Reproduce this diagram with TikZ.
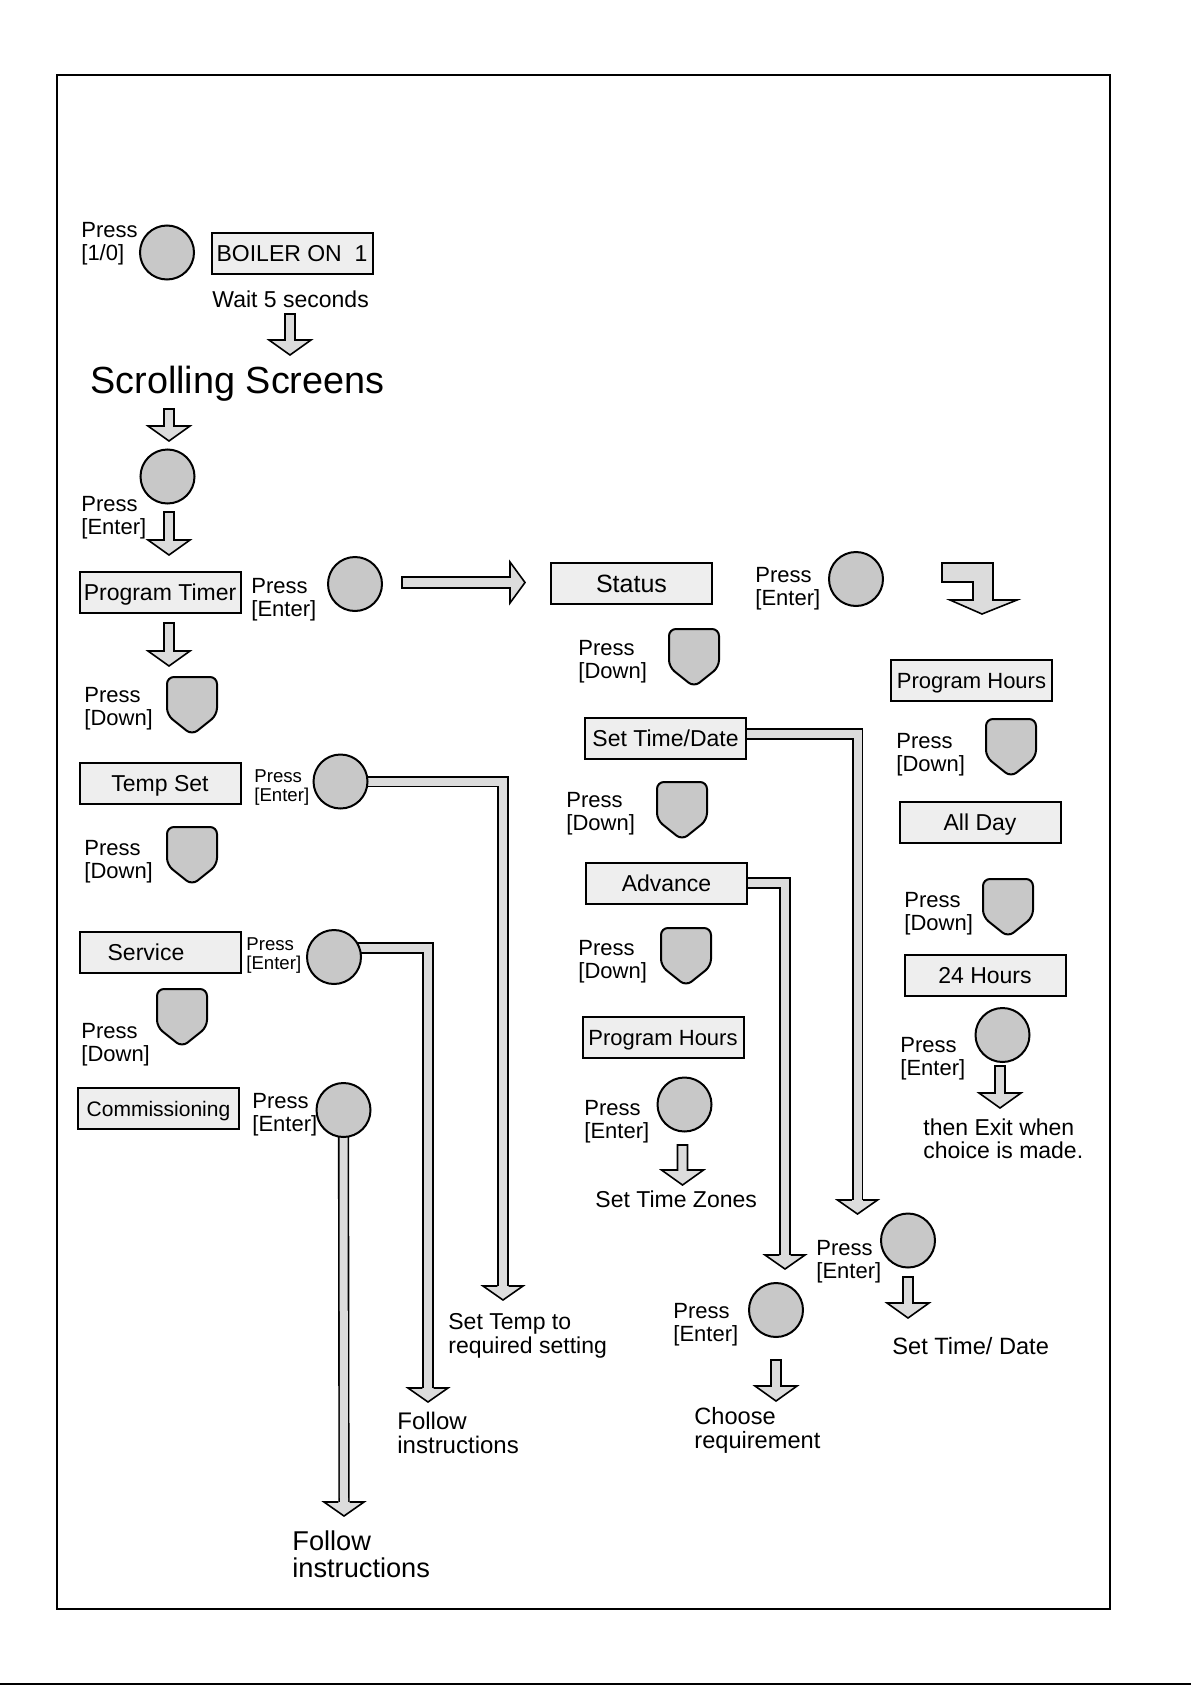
\documentclass[tikz,border=0pt]{standalone}
\usepackage{fontspec}
\setmainfont{Liberation Sans}
\usepackage{tikz}
\usetikzlibrary{backgrounds}
\definecolor{keygray}{HTML}{C8C8C8}
\definecolor{boxgray}{HTML}{EEEEEE}
\definecolor{arrowgray}{HTML}{DCDCDC}

\begin{document}
\begin{tikzpicture}[x=0.5pt, y=-0.5pt,
    screen/.style={draw, line width=1pt, fill=boxgray, minimum width=80.5pt,
                   minimum height=20.5pt, inner sep=0pt, text height=8.2pt, text depth=0pt,
                   font=\fontsize{11.5}{13}\selectfont},
    keyround/.style={circle, draw, line width=1pt, fill=keygray, minimum size=27pt, inner sep=0pt},
    lbl/.style={anchor=north west, inner sep=0pt, align=left, font=\fontsize{11}{11.5}\selectfont},
    lblsmall/.style={lbl, font=\fontsize{9.3}{9.6}\selectfont},
    note/.style={lbl, font=\fontsize{11.5}{11.8}\selectfont},
    pipe/.style={double=arrowgray, double distance=4pt, line width=0.8pt, line join=miter},
    arrowfill/.style={draw, line width=0.8pt, fill=arrowgray, line join=miter},
    downkey/.pic={\draw[line width=1pt, fill=keygray, rounded corners=3.5pt]
        (25,0) -- (50,0) -- (50,38) -- (25,58) -- (0,38) -- (0,0) -- cycle;},
    pics/blockdown/.style={code={\draw[arrowfill] (-5,0) -- (5,0) -- (5,{#1-15}) -- (21,{#1-15})
        -- (0,#1) -- (-21,{#1-15}) -- (-5,{#1-15}) -- cycle;}},
    pipehead/.pic={\fill[arrowgray] (-20,0) -- (0,14) -- (20,0) -- cycle;
        \draw[line width=0.8pt, line join=miter] (-5.6,0) -- (-20,0) -- (0,14) -- (20,0) -- (5.6,0);},
]
    \useasboundingbox (0,0) rectangle (1191,1685);
    \draw[line width=0.8pt] (57,75) rectangle (1110,1609);
    \draw[line width=1pt] (0,1684) -- (1191,1684);

    % === power on ===
    \node[lbl] (txtpower) at (81,222) {Press\\{[1/0]}};
    \node[keyround] (btnpower) at (167,252.5) {};
    \node[screen] (boileron) at (292,253.5) {BOILER ON\ \ 1};
    \node[note] (txtwait) at (212,290) {Wait 5 seconds};
    \pic at (290,314) {blockdown=41};
    \node[lbl, font=\fontsize{18.9}{20}\selectfont] (title) at (90,366) {Scrolling Screens};
    \pic at (169,409) {blockdown=32};
    \node[keyround] (btnscroll) at (167.5,476.5) {};
    \node[lbl] (txtscroll) at (81,496) {Press\\{[Enter]}};
    \pic at (169,512) {blockdown=43};

    % === left column ===
    \node[screen] (timer) at (160,592) {Program Timer};
    \node[lbl] (txttimer) at (251,578) {Press\\{[Enter]}};
    \node[keyround] (btntimer) at (355,584) {};
    \draw[arrowfill] (402,577) -- (510,577) -- (510,562) -- (525,582.5) -- (510,603)
        -- (510,588) -- (402,588) -- cycle;
    \pic at (169,623) {blockdown=43};
    \node[lbl] (txtdown1) at (84,687) {Press\\{[Down]}};
    \pic at (167,677) {downkey};

    \node[screen] (temp) at (160,783.5) {Temp Set};
    \node[lblsmall] (txttemp) at (254,769) {Press\\{[Enter]}};
    \node[keyround] (btntemp) at (340.5,781.5) {};
    \node[lbl] (txtdown2) at (84,840) {Press\\{[Down]}};
    \pic at (167,827) {downkey};

    \node[screen] (service) at (160.5,952) {Service\hspace*{14.5pt}};
    \node[lblsmall] (txtservice) at (246,937) {Press\\{[Enter]}};
    \node[keyround] (btnservice) at (334,957) {};
    \node[lbl] (txtdown3) at (81,1023) {Press\\{[Down]}};
    \pic at (157,989) {downkey};

    \node[screen, font=\fontsize{10.5}{12}\selectfont, text height=7.5pt] (comm) at (158.5,1108.5) {Commissioning};
    \node[lbl] (txtcomm) at (252,1093) {Press\\{[Enter]}};
    \node[keyround] (btncomm) at (343.5,1110) {};

    % === status column ===
    \node[screen, font=\fontsize{12.5}{14}\selectfont, text height=9pt] (status) at (631.5,583.5) {Status};
    \node[lbl] (txtstatus) at (755,567) {Press\\{[Enter]}};
    \node[keyround] (btnstatus) at (856,579) {};
    \draw[arrowfill] (942,563) -- (993,563) -- (993,600) -- (1017,600) -- (982,614)
        -- (950,600) -- (973,600) -- (973,582) -- (942,582) -- cycle;
    \node[lbl] (txtdown4) at (578,640) {Press\\{[Down]}};
    \pic at (669,629) {downkey};
    \node[screen] (settime) at (665.5,738) {Set Time/Date};
    \node[lbl] (txtdown5) at (566,792) {Press\\{[Down]}};
    \pic at (657,782) {downkey};
    \node[screen] (advance) at (666.5,883) {Advance};
    \node[lbl] (txtdown6) at (578,940) {Press\\{[Down]}};
    \pic at (661,928) {downkey};
    \node[screen, font=\fontsize{11}{12}\selectfont] (proghrs) at (663,1037) {Program Hours};
    \node[lbl] (txtzones) at (584,1100) {Press\\{[Enter]}};
    \node[keyround] (btnzones) at (684.5,1104.5) {};
    \pic at (682.5,1145) {blockdown=40};
    \node[note] (zones) at (595,1190) {Set Time Zones};

    \node[lbl] (txtdate) at (816,1240) {Press\\{[Enter]}};
    \node[keyround] (btndate) at (908,1240.5) {};
    \pic at (908,1277) {blockdown=41};
    \node[note, font=\fontsize{11.8}{12}\selectfont] (datedone) at (892,1337) {Set Time/ Date};

    \node[lbl] (txtadv) at (673,1303) {Press\\{[Enter]}};
    \node[keyround] (btnadv) at (776,1310) {};
    \pic at (776,1360) {blockdown=41};
    \node[note, font=\fontsize{11.8}{12.2}\selectfont] (choose) at (694,1407) {Choose\\requirement};

    % === program hours column ===
    \node[screen, font=\fontsize{11}{12}\selectfont] (proghrsr) at (971.5,680) {Program Hours};
    \node[lbl] (txtdown7) at (896,733) {Press\\{[Down]}};
    \pic at (986,719) {downkey};
    \node[screen] (allday) at (980,822.5) {All Day};
    \node[lbl] (txtdown8) at (904,892) {Press\\{[Down]}};
    \pic at (983,879) {downkey};
    \node[screen] (hours24) at (985,975) {24 Hours};
    \node[lbl] (txt24) at (900,1037) {Press\\{[Enter]}};
    \node[keyround] (btn24) at (1002.5,1035) {};
    \pic at (1000,1066) {blockdown=42};
    \node[note] (txtexit) at (923,1118) {then Exit when\\choice is made.};

    % === results ===
    \node[note] (settemp) at (448,1313) {Set Temp to\\required setting};
    \node[note, font=\fontsize{12}{11.9}\selectfont] (follow1) at (397,1412) {Follow\\instructions};
    \node[note, font=\fontsize{13.6}{13.5}\selectfont] (follow2) at (292,1530) {Follow\\instructions};

    % pipes into the result arrows
    \coordinate (tempend) at (503,1286);
    \coordinate (serviceend) at (428,1388);
    \coordinate (commend) at (344,1502);
    \coordinate (settimeend) at (857.5,1200);
    \coordinate (advanceend) at (785,1255);
    \begin{scope}[on background layer]
        \draw[pipe] (btntemp.center) -| (tempend);
        \draw[pipe] ([yshift=4.5pt]btnservice.center) -| (serviceend);
        \draw[pipe] (btncomm.center |- btncomm.south) ++(0,-10) -- (commend);
        \draw[pipe] ([yshift=2pt]settime.center) -| (settimeend);
        \draw[pipe] (advance.center) -| (advanceend);
    \end{scope}
    \pic at (tempend) {pipehead};
    \pic at (serviceend) {pipehead};
    \pic at (commend) {pipehead};
    \pic at (settimeend) {pipehead};
    \pic at (advanceend) {pipehead};
\end{tikzpicture}
\end{document}
